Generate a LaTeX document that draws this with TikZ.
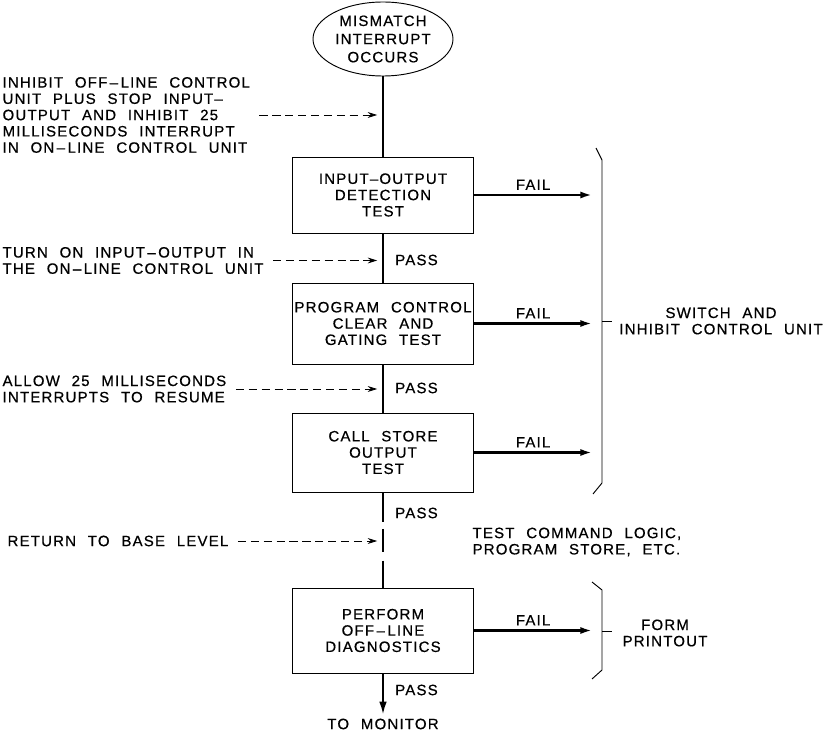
\documentclass[tikz,border=0pt]{standalone}
\usepackage{fontspec}
\setmainfont{Liberation Sans}[LetterSpace=8,WordSpace=2.2,FakeBold=0.6]
\usetikzlibrary{shapes.geometric,arrows.meta}

\begin{document}
\begin{tikzpicture}[x=0.03cm,y=-0.03cm,
  font=\fontsize{12.8}{13.9}\selectfont,
  box/.style={draw,line width=0.8pt,minimum width=5.44cm,align=center,inner sep=0pt},
  flow/.style={line width=1.7pt},
  failarrow/.style={line width=2pt,-{Latex[length=10pt,width=6pt]}},
  passarrow/.style={line width=1.7pt,-{Latex[length=11pt,width=6.5pt]}},
  dasharrow/.style={line width=0.7pt,dash pattern=on 7pt off 4pt,-{Stealth[length=8pt,width=5pt]},shorten <=6pt,shorten >=5pt},
  note/.style={align=left,anchor=west,inner sep=2pt},
  lbl/.style={anchor=west,inner sep=0pt},
  bracket/.style={line width=0.8pt}]
\useasboundingbox (0,0) rectangle (828,734);

\node[draw,ellipse,line width=0.8pt,minimum width=4.2cm,minimum height=2.22cm,inner sep=0pt,align=center,font=\fontsize{12.8}{15.5}\selectfont] (start) at (383,39) {MISMATCH\\INTERRUPT\\OCCURS};
\node[box,minimum height=2.28cm] (io) at (383,195) {INPUT–OUTPUT\\DETECTION\\TEST};
\node[box,minimum height=2.43cm] (pc) at (383,323.5) {PROGRAM CONTROL\\CLEAR AND\\GATING TEST};
\node[box,minimum height=2.37cm] (cs) at (383,452.5) {CALL STORE\\OUTPUT\\TEST};
\node[box,minimum height=2.55cm] (diag) at (383,630.5) {PERFORM\\OFF\,–\,LINE\\DIAGNOSTICS};
\node (mon) at (383,724) {TO MONITOR};

\draw[flow] (start) -- (io);
\draw[flow] (io) -- (pc);
\draw[flow] (pc) -- (cs);
\draw[flow,dash pattern=on 25.5pt off 5.6pt on 20pt off 7pt on 24pt] (cs) -- (diag);
\draw[passarrow] (diag) -- (mon);

\node[lbl] (p1) at (395,260) {PASS};
\node[lbl] (p2) at (395,388) {PASS};
\node[lbl] (p3) at (395,513) {PASS};
\node[lbl] (p4) at (395,690) {PASS};

\foreach \b in {io,pc,cs,diag}
  \draw[failarrow] (\b.east) -- ++(118,0) coordinate (\b-f) node[midway,above] {FAIL};

\node[note] (n1) at (0,115) {INHIBIT OFF\,–\,LINE CONTROL\\UNIT PLUS STOP INPUT–\\OUTPUT AND INHIBIT 25\\MILLISECONDS INTERRUPT\\IN ON\,–\,LINE CONTROL UNIT};
\node[note] (n2) at (0,260.5) {TURN ON INPUT\,–\,OUTPUT IN\\THE ON\,–\,LINE CONTROL UNIT};
\node[note] (n3) at (0,389) {ALLOW 25 MILLISECONDS\\INTERRUPTS TO RESUME};
\node[note] (n4) at (5,541) {RETURN TO BASE LEVEL};
\foreach \n in {n1,n2,n3,n4}
  \draw[dasharrow] (\n.east) -- (\n.east -| io.north);

\draw[bracket] (596,148) -- (602,160) -- (602,483) -- (593,494);
\draw[bracket] (602,321) -- (612,321);
\draw[bracket] (592,582) -- (602,590) -- (602,670) -- (592,679);
\draw[bracket] (602,631) -- (612,631);

\node[align=center] (swi) at (721,321) {SWITCH AND\\INHIBIT CONTROL UNIT};
\node[align=center] (form) at (665,633) {FORM\\PRINTOUT};
\node[note] (tcl) at (470,542) {TEST COMMAND LOGIC,\\PROGRAM STORE, ETC.};
\end{tikzpicture}
\end{document}
